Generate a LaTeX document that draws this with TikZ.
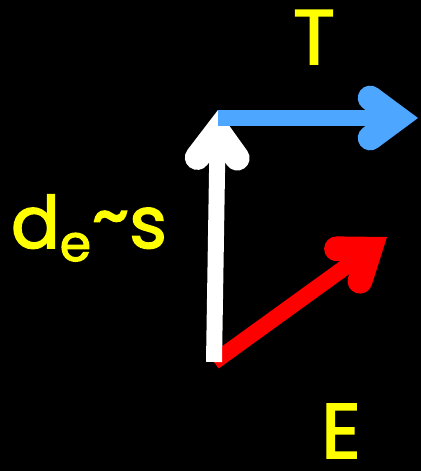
\documentclass[tikz,border=0pt]{standalone}
\usepackage{fontspec}
\setmainfont{Poppins}
\newfontfamily\labfont{Poppins}[FakeBold=2.2]
\usetikzlibrary{arrows.meta, positioning}
\definecolor{vecblue}{RGB}{77, 166, 255}
\definecolor{vecred}{RGB}{255, 0, 0}
\definecolor{labyellow}{RGB}{255, 255, 0}

\begin{document}
\begin{tikzpicture}[
  x=0.02cm, y=-0.02cm,
  vec/.style={line width=16*0.02cm, -{Straight Barb[length=27*0.02cm, width=40*0.02cm, line width=0pt 1.55, line cap=round, line join=miter]}},
  lab/.style={text=labyellow, font=\fontsize{44}{48}\labfont, inner sep=0pt, anchor=base}
]
  \fill[black] (0,0) rectangle (421,471);
  \useasboundingbox (0,0) rectangle (421,471);
  % end points of the vectors
  \coordinate (o) at (214,362);
  \coordinate (top) at (218,110);
  \coordinate (tend) at (418,118);
  \coordinate (eend) at (387,237);
  \draw[vec, vecred] (o) -- (eend);
  \draw[vec, white] (o) -- (top);
  \draw[vec, vecblue] (218,118) -- (tend);
  % labels
  \node[lab] (tlab) at (314,64) {T};
  \node[lab] (elab) at (341,458) {E};
  \node[lab, font=\fontsize{41}{45}\labfont] (dlab) at (89,248) {d\textsubscript{e}\raisebox{0.12em}{\textasciitilde}s};
\end{tikzpicture}
\end{document}
